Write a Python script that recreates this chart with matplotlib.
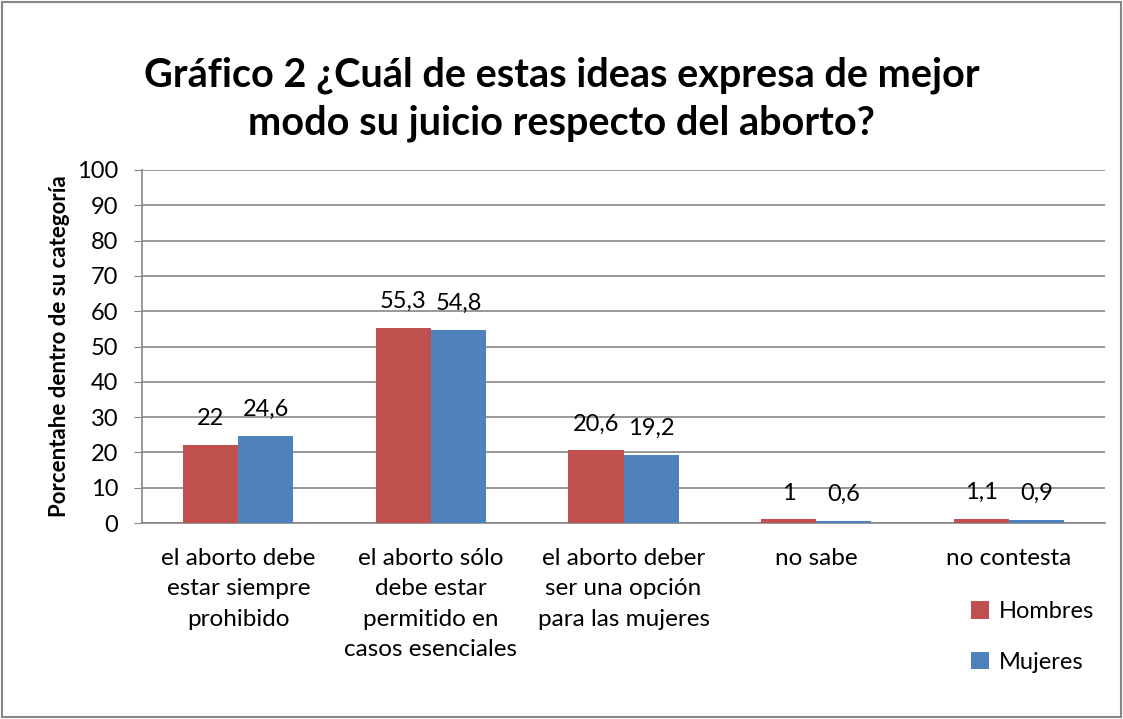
import matplotlib.pyplot as plt
import numpy as np
from matplotlib.patches import Rectangle

# --- datos ---
categorias = ["el aborto debe\nestar siempre\nprohibido",
              "el aborto sólo\ndebe estar\npermitido en\ncasos esenciales",
              "el aborto deber\nser una opción\npara las mujeres",
              "no sabe",
              "no contesta"]
hombres = [22, 55.3, 20.6, 1, 1.1]
mujeres = [24.6, 54.8, 19.2, 0.6, 0.9]
etiquetas_h = ["22", "55,3", "20,6", "1", "1,1"]
etiquetas_m = ["24,6", "54,8", "19,2", "0,6", "0,9"]

rojo = "#C0504D"
azul = "#4F81BD"
gris = "#868686"

plt.rcParams["font.family"] = ["Lato", "DejaVu Sans"]

fig = plt.figure(figsize=(11.23, 7.19), dpi=100)
fig.patches.append(Rectangle((0.002, 0.003), 0.996, 0.994, transform=fig.transFigure,
                             fill=False, edgecolor=gris, linewidth=1.5))

ax = fig.add_axes([142 / 1123, 1 - 523 / 719, (1105 - 142) / 1123, (523 - 170) / 719])

x = np.arange(len(categorias))
ancho = 0.286
b1 = ax.bar(x - ancho / 2, hombres, ancho, color=rojo, label="Hombres", zorder=3)
b2 = ax.bar(x + ancho / 2, mujeres, ancho, color=azul, label="Mujeres", zorder=3)

# etiquetas de valor encima de las barras
for barras, textos in [(b1, etiquetas_h), (b2, etiquetas_m)]:
    for barra, txt in zip(barras, textos):
        ax.annotate(txt, (barra.get_x() + barra.get_width() / 2, barra.get_height()),
                    xytext=(0, 19), textcoords="offset points",
                    ha="center", va="center", fontsize=17)

ax.set_xlim(-0.5, len(categorias) - 0.5)
ax.set_ylim(0, 100)
ax.set_yticks(range(0, 101, 10))
ax.yaxis.grid(True, color=gris, linewidth=1.2, zorder=0)
ax.set_axisbelow(True)
for lado in ["top", "right"]:
    ax.spines[lado].set_visible(False)
for lado in ["left", "bottom"]:
    ax.spines[lado].set_color(gris)
    ax.spines[lado].set_linewidth(1.2)
ax.tick_params(axis="y", length=6, color=gris, labelsize=17, pad=11)
ax.tick_params(axis="x", length=0, labelsize=17.5, pad=18)
ax.set_xticks(x)
ax.set_xticklabels(categorias, linespacing=1.55, va="top")

ax.set_ylabel("Porcentahe dentro de su categoría", fontsize=16, fontweight="bold", labelpad=5)

fig.text(0.5, 0.862, "Gráfico 2 ¿Cuál de estas ideas expresa de mejor\nmodo su juicio respecto del aborto?",
         ha="center", va="center", fontsize=28.5, fontweight="bold", linespacing=1.37)

fig.legend(handles=[b1, b2], loc="upper left", bbox_to_anchor=(950 / 1123, 1 - 580 / 719),
           frameon=False, fontsize=17, handlelength=0.75, handleheight=0.75,
           handletextpad=0.4, labelspacing=1.25)

plt.savefig("out.png", dpi=100)
